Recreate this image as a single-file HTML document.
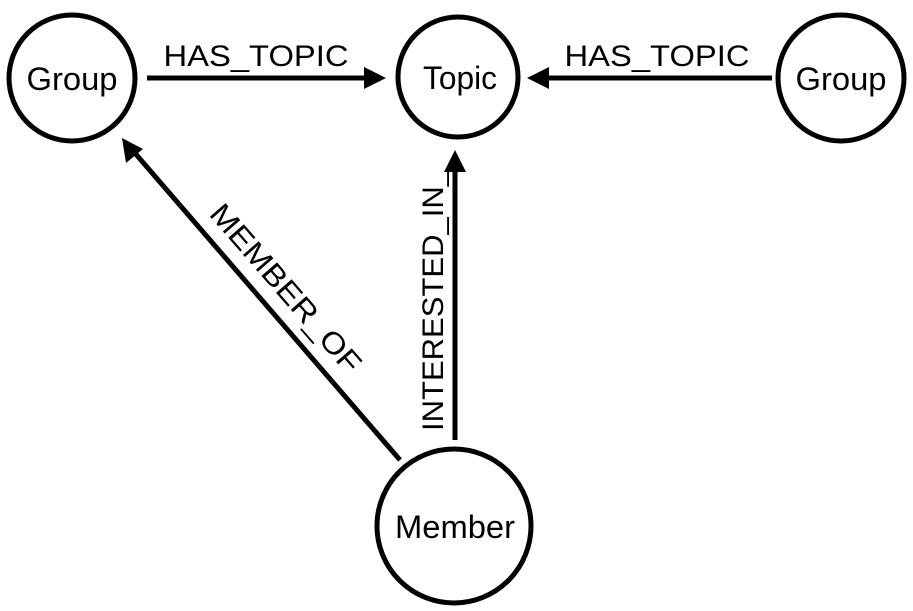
<!DOCTYPE html>
<html><head><meta charset="utf-8"><style>
html,body{margin:0;padding:0;background:#fff;}
svg{display:block;}
text{font-family:"Liberation Sans",sans-serif;fill:#000;}
</style></head><body>
<svg width="913" height="611" viewBox="0 0 913 611">
<g fill="none" stroke="#000" stroke-width="5">
<circle cx="72" cy="78" r="63"/>
<circle cx="458" cy="77" r="60"/>
<circle cx="841" cy="78" r="63"/>
<circle cx="454" cy="526" r="77"/>
<line x1="147" y1="78" x2="368" y2="78"/>
<line x1="772" y1="78" x2="545" y2="78"/>
<line x1="455" y1="440" x2="455" y2="172"/>
<line x1="400" y1="460" x2="134" y2="152"/>
</g>
<g fill="#000">
<polygon points="386,78 364,67 364,89"/>
<polygon points="527,78 549,67 549,89"/>
<polygon points="455,150 444,172 466,172"/>
<polygon points="122,138 126,163 143,149"/>
</g>
<g font-size="32" text-anchor="middle">
<text x="72" y="90" textLength="91" lengthAdjust="spacingAndGlyphs">Group</text>
<text x="460" y="89" textLength="74" lengthAdjust="spacingAndGlyphs">Topic</text>
<text x="841" y="90" textLength="91" lengthAdjust="spacingAndGlyphs">Group</text>
<text x="455" y="538" textLength="120" lengthAdjust="spacingAndGlyphs">Member</text>
</g>
<g font-size="30" text-anchor="middle">
<text x="256" y="66" textLength="185" lengthAdjust="spacingAndGlyphs">HAS_TOPIC</text>
<text x="657" y="66" textLength="185" lengthAdjust="spacingAndGlyphs">HAS_TOPIC</text>
<text transform="translate(278,295) rotate(49)" textLength="213" lengthAdjust="spacingAndGlyphs">MEMBER_OF</text>
<text transform="translate(443,300) rotate(-90)" textLength="262" lengthAdjust="spacingAndGlyphs">INTERESTED_IN_</text>
</g>
</svg>
</body></html>
